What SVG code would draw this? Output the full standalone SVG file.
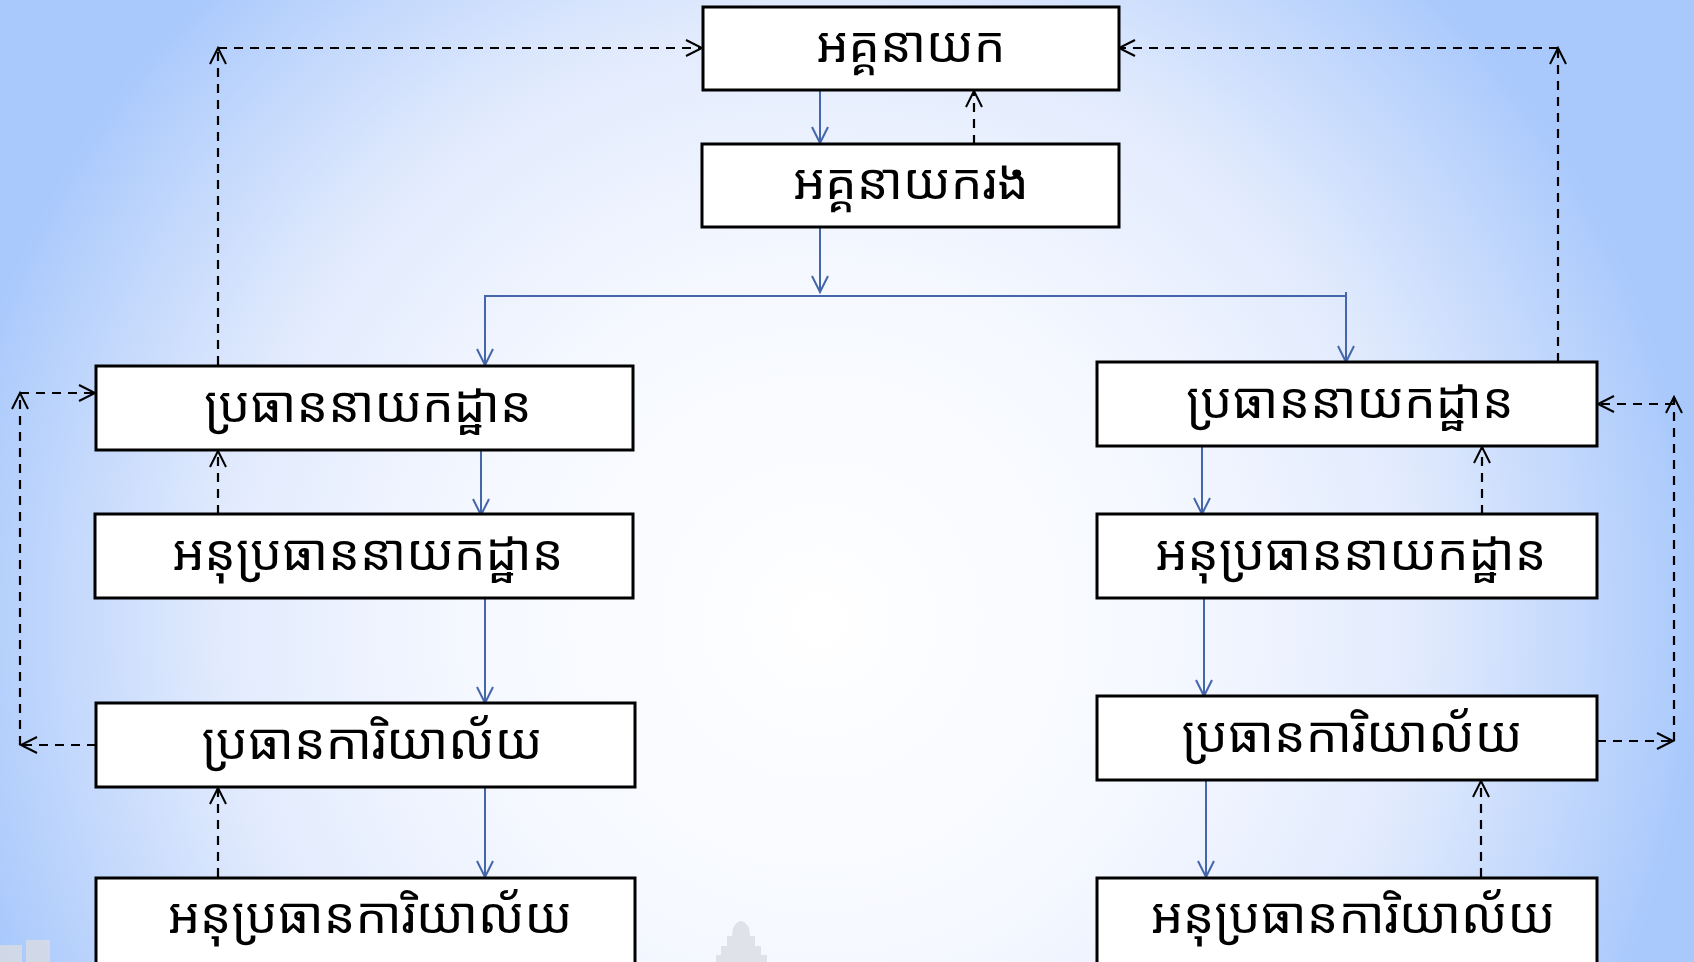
<svg xmlns="http://www.w3.org/2000/svg" width="1694" height="962" viewBox="0 0 1694 962">
<defs>
<radialGradient id="bg" gradientUnits="userSpaceOnUse" cx="820" cy="620" r="880" fx="820" fy="620">
<stop offset="0" stop-color="#ffffff"/>
<stop offset="0.4" stop-color="#f5f8ff"/>
<stop offset="0.68" stop-color="#e2ebfd"/>
<stop offset="0.9" stop-color="#bcd4fc"/>
<stop offset="1" stop-color="#a9c9fc"/>
</radialGradient>
<marker id="ab" markerUnits="userSpaceOnUse" markerWidth="20" markerHeight="20" refX="17" refY="9" orient="auto" overflow="visible">
<path d="M1,1 L17,9 L1,17" fill="none" stroke="#4466aa" stroke-width="2"/>
</marker>
<marker id="ak" markerUnits="userSpaceOnUse" markerWidth="20" markerHeight="20" refX="17" refY="9" orient="auto" overflow="visible">
<path d="M1,1 L17,9 L1,17" fill="none" stroke="#000" stroke-width="2"/>
</marker>
</defs>
<style>
.box{fill:#fff;stroke:#000;stroke-width:3}
.lbl{font-family:"Khmer OS","Khmer OS System","Noto Sans Khmer","Noto Serif Khmer","Khmer","DejaVu Sans",sans-serif;font-size:50px;text-anchor:middle;fill:#000}
.solid{fill:none;stroke:#4466aa;stroke-width:2;marker-end:url(#ab)}
.plain{fill:none;stroke:#4466aa;stroke-width:2}
.dash{fill:none;stroke:#000;stroke-width:2.2;stroke-dasharray:9 7;marker-end:url(#ak)}
.wm{fill:#d9dce2;opacity:0.8}
</style>
<rect x="0" y="0" width="1694" height="962" fill="url(#bg)"/>
<g id="watermark">
<path class="wm" d="M716,962 L716,955 L721,955 L721,946 L727,946 L727,936 L732,936 L733,928 Q741,914 749,928 L750,936 L755,936 L755,946 L761,946 L761,955 L767,955 L767,962 Z"/>
<path class="wm" d="M0,945 L22,945 L22,962 L0,962 Z M26,940 L50,940 L50,962 L26,962 Z" opacity="0.5"/>
</g>
<g id="connectors">
<line class="solid" x1="820" y1="90" x2="820" y2="143"/>
<line class="dash" x1="974" y1="144" x2="974" y2="91"/>
<line class="solid" x1="820" y1="227" x2="820" y2="292"/>
<polyline class="plain" points="485,365 485,296 1346,296 1346,292"/>
<line class="solid" x1="485" y1="296" x2="485" y2="365"/>
<line class="solid" x1="1346" y1="296" x2="1346" y2="362"/>
<line class="dash" x1="218" y1="365" x2="218" y2="48"/>
<line class="dash" x1="218" y1="48" x2="702" y2="48"/>
<line class="dash" x1="1558" y1="362" x2="1558" y2="48"/>
<line class="dash" x1="1558" y1="48" x2="1119" y2="48"/>
<line class="solid" x1="481" y1="450" x2="481" y2="515"/>
<line class="dash" x1="218" y1="514" x2="218" y2="451"/>
<line class="solid" x1="485" y1="598" x2="485" y2="703"/>
<line class="solid" x1="485" y1="787" x2="485" y2="877"/>
<line class="dash" x1="218" y1="877" x2="218" y2="788"/>
<line class="dash" x1="96" y1="745" x2="21" y2="745"/>
<line class="dash" x1="20" y1="745" x2="20" y2="393"/>
<line class="dash" x1="20" y1="393" x2="95" y2="393"/>
<line class="solid" x1="1202" y1="446" x2="1202" y2="514"/>
<line class="dash" x1="1482" y1="514" x2="1482" y2="447"/>
<line class="solid" x1="1204" y1="598" x2="1204" y2="696"/>
<line class="solid" x1="1206" y1="780" x2="1206" y2="877"/>
<line class="dash" x1="1481" y1="877" x2="1481" y2="781"/>
<line class="dash" x1="1597" y1="741" x2="1673" y2="741"/>
<line class="dash" x1="1674" y1="741" x2="1674" y2="397"/>
<line class="dash" x1="1674" y1="404" x2="1598" y2="404"/>
</g>
<g id="n-top"><rect class="box" x="703" y="7" width="416" height="83"/><text class="lbl" x="911" y="62">អគ្គនាយក</text></g>
<g id="n-deputy"><rect class="box" x="702" y="144" width="417" height="83"/><text class="lbl" x="911" y="199">អគ្គនាយករង</text></g>
<g id="n-l1"><rect class="box" x="96" y="366" width="537" height="84"/><text class="lbl" x="368" y="422">ប្រធាននាយកដ្ឋាន</text></g>
<g id="n-l2"><rect class="box" x="95" y="514" width="538" height="84"/><text class="lbl" x="368" y="570">អនុប្រធាននាយកដ្ឋាន</text></g>
<g id="n-l3"><rect class="box" x="96" y="703" width="539" height="84"/><text class="lbl" x="372" y="759">ប្រធានការិយាល័យ</text></g>
<g id="n-l4"><rect class="box" x="96" y="878" width="539" height="90"/><text class="lbl" x="370" y="933">អនុប្រធានការិយាល័យ</text></g>
<g id="n-r1"><rect class="box" x="1097" y="362" width="500" height="84"/><text class="lbl" x="1350" y="418">ប្រធាននាយកដ្ឋាន</text></g>
<g id="n-r2"><rect class="box" x="1097" y="514" width="500" height="84"/><text class="lbl" x="1351" y="570">អនុប្រធាននាយកដ្ឋាន</text></g>
<g id="n-r3"><rect class="box" x="1097" y="696" width="500" height="84"/><text class="lbl" x="1352" y="752">ប្រធានការិយាល័យ</text></g>
<g id="n-r4"><rect class="box" x="1097" y="878" width="500" height="90"/><text class="lbl" x="1353" y="933">អនុប្រធានការិយាល័យ</text></g>
</svg>
